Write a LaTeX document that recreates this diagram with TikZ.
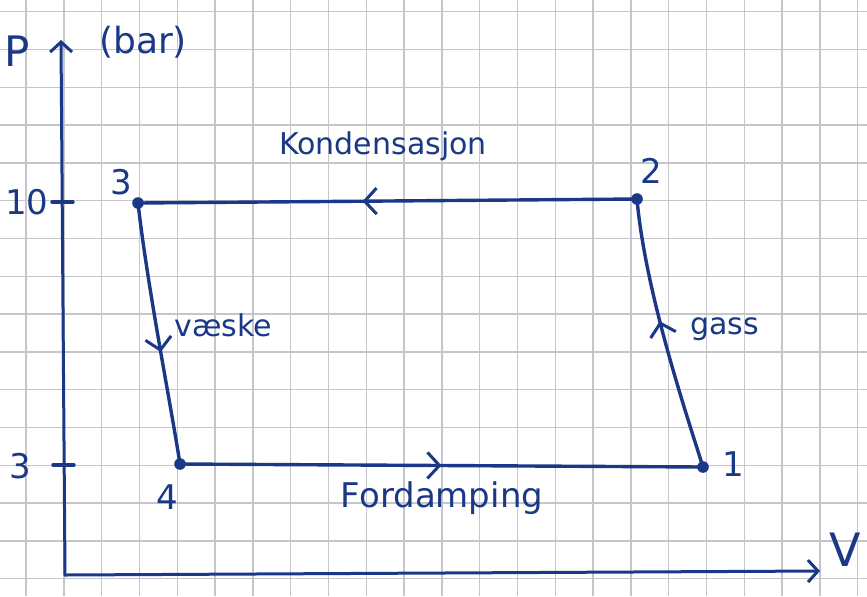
\documentclass[tikz,border=0pt]{standalone}
\usepackage{fontspec}
\setmainfont{DejaVu Sans}
\usepackage{tikz}
\usetikzlibrary{arrows.meta,decorations.markings,positioning}
\definecolor{ink}{RGB}{26,56,134}
\definecolor{paper}{RGB}{196,198,204}

\begin{document}
\begin{tikzpicture}[
    x=0.5pt, y=-0.5pt,
    pt/.style={circle, fill=ink, inner sep=0pt, minimum size=5.8pt},
    lbl/.style={text=ink, inner sep=1pt, font=\fontsize{15}{17}\selectfont},
    num/.style={text=ink, inner sep=1pt, font=\fontsize{17}{19}\selectfont},
    big/.style={text=ink, inner sep=1pt, font=\fontsize{21}{24}\selectfont},
    axis/.style={draw=ink, line width=1.5pt, line cap=round, -{Straight Barb[length=5pt,width=11pt,line width=1.5pt]}},
    ln/.style={draw=ink, line width=1.7pt, line cap=round},
    midarr/.style={postaction={decorate}, decoration={markings,
        mark=at position #1 with {\arrow{Straight Barb[length=6pt,width=13pt,line width=1.5pt]}}}}
]
\useasboundingbox (0,0) rectangle (867,596);
\fill[white] (0,0) rectangle (867,596);
\begin{scope}
\clip (0,0) rectangle (867,596);
\foreach \k in {0,...,22}
  \draw[paper, line width=0.7pt] (26+37.8*\k,0) -- (26+37.8*\k,596);
\foreach \k in {0,...,15}
  \draw[paper, line width=0.7pt] (0,11.7+37.8*\k) -- (867,11.7+37.8*\k);
\end{scope}
% axes
\coordinate (o) at (65,575);
\coordinate (ptop) at (61,40);
\coordinate (vend) at (820,571);
\draw[axis] (o) -- (ptop);
\draw[axis] (o) -- (vend);
\coordinate (t10) at (63,202);
\coordinate (t3) at (64,465);
\draw[ln] ([xshift=-5.5pt]t10) -- ([xshift=5pt]t10);
\draw[ln] ([xshift=-5.5pt]t3) -- ([xshift=5pt]t3);
\node[big] (lP) at (17,51) {P};
\node[lbl, font=\fontsize{18}{20}\selectfont] (lbar) at (143,42) {(bar)};
\node[num] (l10) at (27,202) {10};
\node[num] (l3) at (20,466) {3};
\node[big, font=\fontsize{23}{26}\selectfont] (lV) at (845,550) {V};
% cycle
\node[pt] (p1) at (703,467) {};
\node[pt] (p2) at (637,199) {};
\node[pt] (p3) at (138,203) {};
\node[pt] (p4) at (180,464) {};
\node[num] (n1) at (733,464) {1};
\node[num] (n2) at (651,171) {2};
\node[num] (n3) at (121,182) {3};
\node[num] (n4) at (167,497) {4};
\draw[ln, midarr=0.5] (p4.center) -- (p1.center);
\draw[ln, midarr=0.55] (p1.center) .. controls (685,410) and (645,290) .. (p2.center);
\draw[ln, midarr=0.55] (p2.center) -- (p3.center);
\draw[ln, midarr=0.57] (p3.center) .. controls (148,290) and (170,400) .. (p4.center);
\node[lbl] (kond) [anchor=base] at (383,154) {Kondensasjon};
\node[lbl, font=\fontsize{17}{19}\selectfont] (ford) [anchor=base] at (442,507) {Fordamping};
\node[lbl] (vaes) [anchor=base west] at (172,336) {væske};
\node[lbl] (gass) [anchor=base west] at (688,334) {gass};
\end{tikzpicture}
\end{document}
